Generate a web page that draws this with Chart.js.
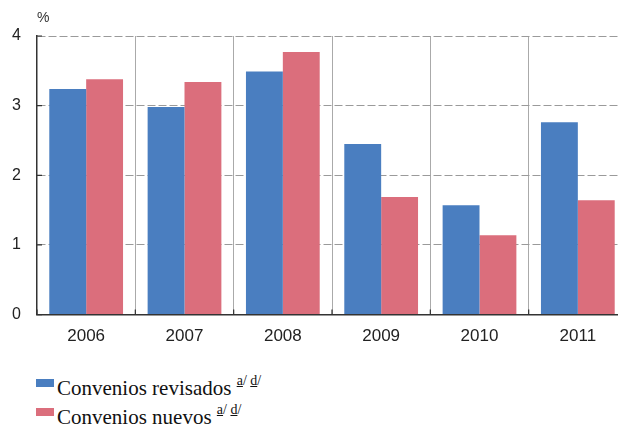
<!DOCTYPE html>
<html>
<head>
<meta charset="utf-8">
<script src="https://cdn.jsdelivr.net/npm/chart.js@4/dist/chart.umd.min.js"></script>
<style>
  html, body { margin: 0; padding: 0; background: #fff; overflow: hidden; }
  #wrap { position: absolute; left: 0; top: 0; width: 628px; height: 359px; }
  #pct { position: absolute; left: 37px; top: 9px; font: 14px "Liberation Sans", Arial, sans-serif; color: #333; }
  .leg { position: absolute; left: 36px; font: 21px "Liberation Serif", "Times New Roman", serif; line-height: 21px; color: #111; white-space: nowrap; }
  .leg .box { position: absolute; left: 0; top: 1px; width: 18px; height: 8px; }
  .leg .txt { position: absolute; left: 21px; top: 0; }
  .leg sup { font-size: 14px; position: relative; top: -10px; vertical-align: baseline; }
</style>
</head>
<body>
<div id="wrap"><canvas id="myChart"></canvas></div>
<div id="pct">%</div>
<div class="leg" style="top:378px"><span class="box" style="background:#4a7ec0"></span><span class="txt">Convenios revisados <sup><u>a</u>/ <u>d</u>/</sup></span></div>
<div class="leg" style="top:407px"><span class="box" style="background:#db6e7c"></span><span class="txt">Convenios nuevos <sup><u>a</u>/ <u>d</u>/</sup></span></div>
<script>
const categories = ['2006', '2007', '2008', '2009', '2010', '2011'];
const revisados = [3.24, 2.98, 3.49, 2.45, 1.57, 2.76];
const nuevos = [3.38, 3.34, 3.77, 1.69, 1.14, 1.64];
const yTicks = [0, 1, 2, 3, 4];

// small ticks drawn inward, as in the original
const innerTicks = {
    id: 'innerTicks',
    afterDraw(chart) {
        const c = chart.ctx, a = chart.chartArea;
        const x = chart.scales.x, y = chart.scales.y;
        c.save();
        c.strokeStyle = '#333';
        c.lineWidth = 1.2;
        c.beginPath();
        yTicks.forEach(v => {
            const py = y.getPixelForValue(v);
            c.moveTo(a.left, py);
            c.lineTo(a.left + 5, py);
        });
        const step = x.getPixelForValue(1) - x.getPixelForValue(0);
        for (let i = 0; i <= categories.length; i++) {
            const px = x.getPixelForValue(0) - step / 2 + i * step;
            c.moveTo(px, a.bottom);
            c.lineTo(px, a.bottom - 5);
        }
        c.stroke();
        c.restore();
    }
};

let ctx = document.querySelector('#myChart');

new Chart(ctx, {
    type: 'bar',
    data: {
        labels: categories,
        datasets: [{
            label: 'Convenios revisados',
            data: revisados,
            backgroundColor: '#4a7ec0'
        }, {
            label: 'Convenios nuevos',
            data: nuevos,
            backgroundColor: '#db6e7c'
        }]
    },
    options: {
        responsive: true,
        maintainAspectRatio: false,
        animation: false,
        datasets: {
            bar: { categoryPercentage: 0.75, barPercentage: 1.0 }
        },
        layout: {
            padding: { top: 36, right: 1, bottom: 0, left: 0 }
        },
        plugins: {
            legend: { display: false },
            tooltip: { enabled: false }
        },
        scales: {
            x: {
                grid: { offset: true, color: '#aaa', lineWidth: 1, drawTicks: false },
                border: { color: '#333', width: 1.5 },
                ticks: {
                    padding: 12,
                    color: '#222',
                    font: { family: '"Liberation Sans", Arial, sans-serif', size: 17 }
                }
            },
            y: {
                min: 0,
                max: 4,
                afterFit: (s) => { s.width = 37; },
                afterBuildTicks: (s) => { s.ticks = yTicks.map(v => ({ value: v })); },
                grid: { color: '#9a9a9a', lineWidth: 1, drawTicks: false },
                border: { color: '#333', width: 1.5, dash: [8, 3] },
                ticks: {
                    padding: 16,
                    color: '#222',
                    font: { family: '"Liberation Sans", Arial, sans-serif', size: 16 }
                }
            }
        }
    },
    plugins: [innerTicks]
});
</script>
</body>
</html>
